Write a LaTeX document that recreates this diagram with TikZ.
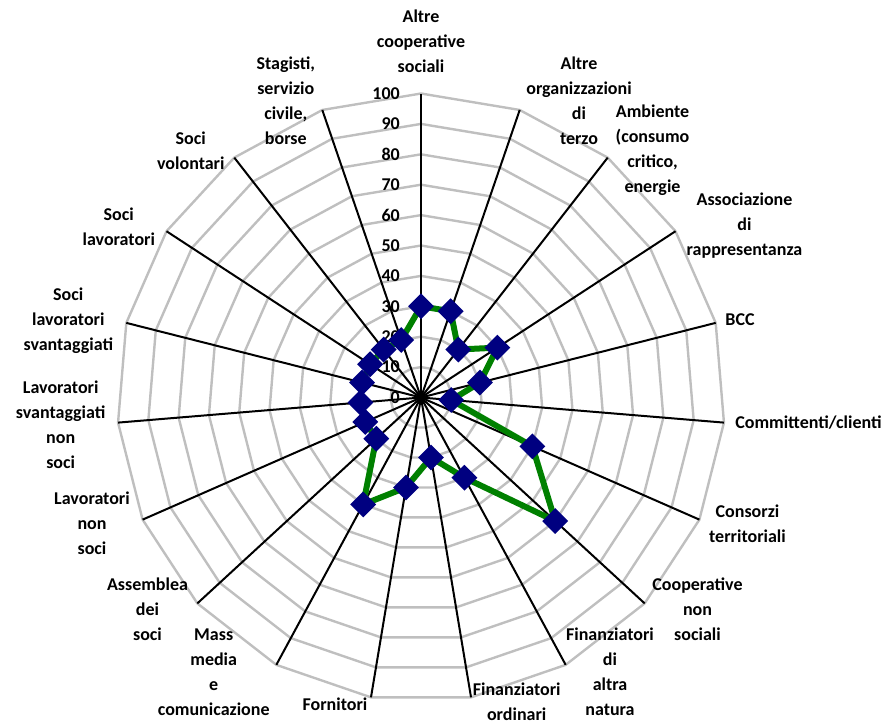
\documentclass[tikz,border=0pt]{standalone}
\usepackage{fontspec}
\setmainfont{Carlito}
\usetikzlibrary{shapes.geometric}
\definecolor{webgray}{RGB}{191,191,191}
\definecolor{serieGreen}{RGB}{0,128,0}
\definecolor{markNavy}{RGB}{0,0,128}
\begin{document}
\begin{tikzpicture}[x=1pt,y=1pt,
  lbl/.style={font=\bfseries\fontsize{18}{25}\selectfont, align=center, inner sep=0pt},
  tick/.style={font=\bfseries\fontsize{18}{20}\selectfont, anchor=east, inner sep=0pt},
  web/.style={draw=webgray, line width=2.4pt},
  axisline/.style={draw=black, line width=2pt},
  serie/.style={draw=serieGreen, line width=6pt, line join=round},
  marker/.style={diamond, fill=markNavy, minimum width=26pt, minimum height=26pt, inner sep=0pt}]
\useasboundingbox (0,0) rectangle (888,-724);
\def\R{304}
\begin{scope}[shift={(421,-397.5)}]
  \coordinate (O) at (0,0);
  % web
  \foreach \k in {1,...,10}{
    \pgfmathsetmacro\rr{\R/10*\k}
    \draw[web] (90:\rr) \foreach \i in {1,...,18}{ -- ({90-\i*360/19}:\rr)} -- cycle;
  }
  % axes
  \foreach \i in {0,...,18}{
    \coordinate (a\i) at ({90-\i*360/19}:\R);
    \draw[axisline] (O) -- (a\i);
  }
  % tick labels
  \foreach \v in {0,10,...,100}{
    \pgfmathsetmacro\ty{\R/100*\v}
    \node[tick] (t\v) at (-21,\ty) {\v};
  }
  % data
  \foreach \v [count=\i from 0] in {30,30,20,30,20,10,40,60,30,20,30,40,20,20,20,20,20,20,20}{
    \pgfmathsetmacro\dr{\R/100*\v}
    \coordinate (p\i) at ({90-\i*360/19}:\dr);
  }
  \draw[serie] (p0) \foreach \i in {1,...,18}{ -- (p\i)} -- cycle;
  \foreach \i in {0,...,18}{
    \node[marker] (m\i) at (p\i) {};
  }
\end{scope}
% category labels
\node[lbl] (l0) at (421,-41) {Altre\\cooperative\\sociali};
\node[lbl] (l1) at (579,-101) {Altre\\organizzazioni\\di\\terzo};
\node[lbl] (l2) at (652.5,-150) {Ambiente\\(consumo\\critico,\\energie};
\node[lbl] (l3) at (744.5,-226) {Associazione\\di\\rappresentanza};
\node[lbl] (l4) at (740,-320) {BCC};
\node[lbl] (l5) at (808.5,-423) {Committenti/clienti};
\node[lbl] (l6) at (747.5,-523.5) {Consorzi\\territoriali};
\node[lbl] (l7) at (697.5,-609.5) {Cooperative\\non\\sociali};
\node[lbl] (l8) at (610,-672) {Finanziatori\\di\\altra\\natura};
\node[lbl] (l9) at (516.7,-701.5) {Finanziatori\\ordinari};
\node[lbl] (l10) at (335,-704) {Fornitori};
\node[lbl] (l11) at (213.7,-672) {Mass\\media\\e\\comunicazione};
\node[lbl] (l12) at (147.5,-609.5) {Assemblea\\dei\\soci};
\node[lbl] (l13) at (92,-523.3) {Lavoratori\\non\\soci};
\node[lbl] (l14) at (60.7,-425) {Lavoratori\\svantaggiati\\non\\soci};
\node[lbl] (l15) at (68.3,-320.5) {Soci\\lavoratori\\svantaggiati};
\node[lbl] (l16) at (118.8,-227) {Soci\\lavoratori};
\node[lbl] (l17) at (190.8,-150.5) {Soci\\volontari};
\node[lbl] (l18) at (285.8,-101) {Stagisti,\\servizio\\civile,\\borse};
\end{tikzpicture}
\end{document}
